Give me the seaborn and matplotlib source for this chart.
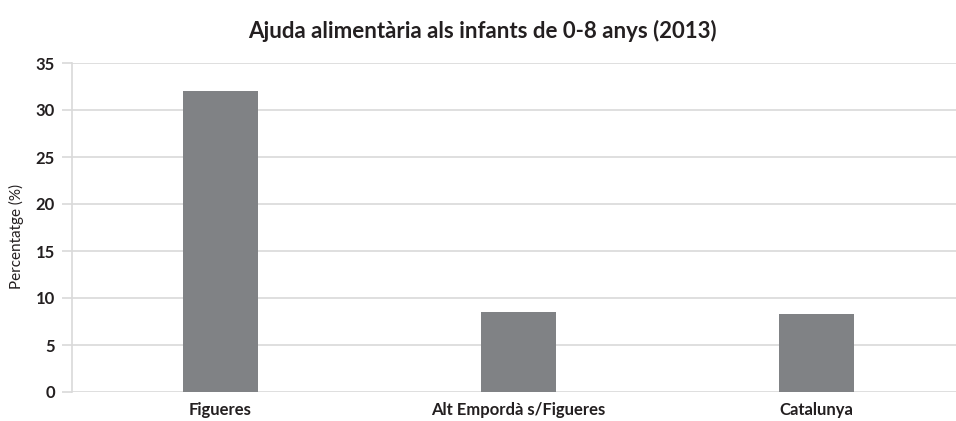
import matplotlib
matplotlib.use("Agg")
import matplotlib.pyplot as plt
import seaborn as sns
import pandas as pd

categories = ["Figueres", "Alt Empordà s/Figueres", "Catalunya"]
values = [32.0, 8.5, 8.3]
yticks = [0, 5, 10, 15, 20, 25, 30, 35]

title = "Ajuda alimentària als infants de 0-8 anys (2013)"
ylabel = "Percentatge (%)"

sns.set_theme(style="white")
plt.rcParams['font.family'] = ['Lato', 'DejaVu Sans']
text_color = "#231f20"
grid_color = "#d9d9d9"
bar_color = "#808285"

df = pd.DataFrame({"cat": categories, "val": values})

fig = plt.figure(figsize=(9.56, 4.21), dpi=100)
ax = fig.add_axes([71.5/956, 29/421, 894/956, 329/421])
sns.barplot(data=df, x="cat", y="val", color=bar_color, width=0.25,
            saturation=1, ax=ax, zorder=3)
for p in ax.patches:
    p.set_edgecolor("none")

ax.set_xlim(-0.5, len(categories) - 0.5)
ax.set_ylim(0, 35)
ax.set_yticks(yticks)
ax.yaxis.grid(True, color=grid_color, linewidth=1.2, zorder=0)
ax.xaxis.grid(False)
for s in ["top", "right", "bottom"]:
    ax.spines[s].set_visible(False)
ax.spines["left"].set_color(grid_color)
ax.spines["left"].set_linewidth(1.2)

ax.set_xticks([i + 0.5 for i in range(len(categories) - 1)], minor=True)
ax.tick_params(axis="x", which="minor", length=7, color=grid_color, width=1.2, direction="out")
ax.tick_params(axis="x", which="major", length=0, pad=7, labelsize=12, labelcolor=text_color)
ax.tick_params(axis="y", length=7, color=grid_color, width=1.2, pad=5, labelsize=12, labelcolor=text_color, left=True)
for lbl in ax.get_xticklabels() + ax.get_yticklabels():
    lbl.set_fontweight("bold")
ax.set_xlabel("")
ax.set_ylabel("")
fig.text(16/956, 1 - 236/421, ylabel, rotation=90, ha="center", va="center",
         fontsize=11, color=text_color)
fig.text(482.5/956, 1 - 31/421, title, ha="center", va="center",
         fontsize=16, fontweight="bold", color=text_color)

fig.savefig("out.png", dpi=100)
